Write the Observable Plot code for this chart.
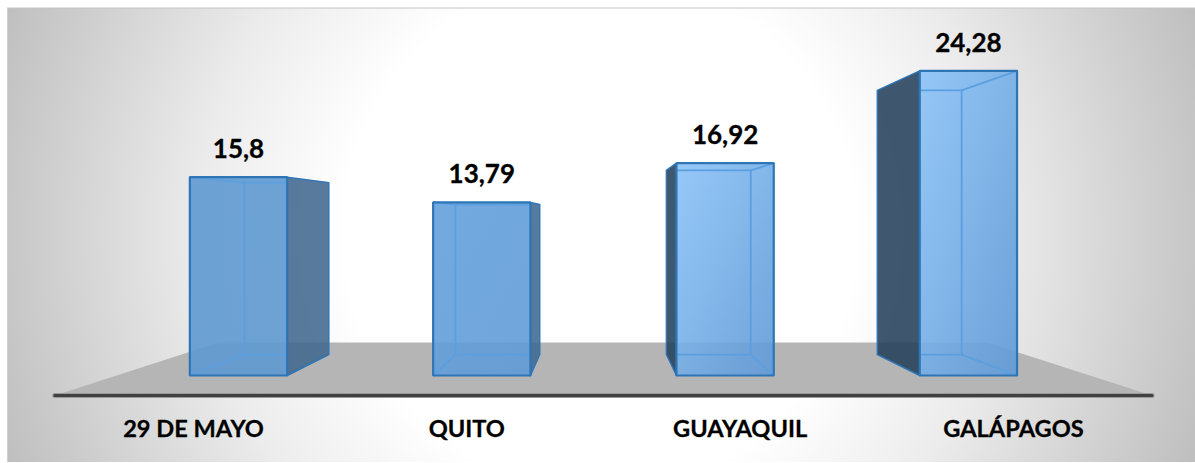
<!DOCTYPE html>
<html>
<head>
<meta charset="utf-8">
<script src="https://cdn.jsdelivr.net/npm/d3@7"></script>
<script src="https://cdn.jsdelivr.net/npm/@observablehq/plot@0.6"></script>
<style>
html,body{margin:0;padding:0;background:#fff;overflow:hidden}
svg{display:block;font-family:Lato,sans-serif}
</style>
</head>
<body>
<div id="chart"></div>
<script>
const categories = ["29 DE MAYO", "QUITO", "GUAYAQUIL", "GALÁPAGOS"];
const values = [15.8, 13.79, 16.92, 24.28];
const valueLabels = ["15,8", "13,79", "16,92", "24,28"];

// Oblique-perspective model, in data units (x = bar index, y = value)
const halfWidth = 0.2, depthScale = 0.867, vanishX = 1.488, backBase = 1.67;
const floorFrontY = -1.59, floorBackY = 2.63;
const floorFront = [-0.755, 3.755], floorBack = [-0.082, 3.078];
const tickStart = -0.185, tickStep = 1.1234;

const backX = x => vanishX + (x - vanishX) * depthScale;
const backY = v => backBase + v * depthScale;

const poly = (id, pts) => pts.map(([x, y]) => ({id, x, y}));
const W = 1195, H = 463;

function gradients() {
  const ns = "http://www.w3.org/2000/svg";
  const defs = document.createElementNS(ns, "defs");
  defs.innerHTML = `
  <radialGradient id="bg" gradientUnits="userSpaceOnUse" cx="600" cy="232" r="640">
    <stop offset="0.40" stop-color="#ffffff"/>
    <stop offset="0.62" stop-color="#ececec"/>
    <stop offset="1" stop-color="#bebebe"/>
  </radialGradient>
  <linearGradient id="fa" x1="0" y1="0" x2="1" y2="1">
    <stop offset="0" stop-color="#5f99d2"/><stop offset="1" stop-color="#5f99d2"/>
  </linearGradient>
  <linearGradient id="fb" x1="0" y1="0" x2="1" y2="1">
    <stop offset="0" stop-color="#63a0dc"/><stop offset="1" stop-color="#5f9bd6"/>
  </linearGradient>
  <linearGradient id="fc" x1="0" y1="0" x2="1" y2="1">
    <stop offset="0" stop-color="#8bc3f8"/><stop offset="1" stop-color="#5f99d6"/>
  </linearGradient>
  <linearGradient id="fd" x1="0" y1="0" x2="1" y2="1">
    <stop offset="0" stop-color="#8bc3f8"/><stop offset="1" stop-color="#5f99d6"/>
  </linearGradient>`;
  return defs;
}

const frontFills = ["url(#fa)", "url(#fb)", "url(#fc)", "url(#fd)"];
const sideFills = ["#3f668f", "#3f668f", "#243f5a", "#243f5a"];
const strongStroke = "#2e75b6", thinStroke = "#5b9fe0";

const barMarks = values.flatMap((v, i) => {
  const l = i - halfWidth, r = i + halfWidth;
  const bl = backX(l), br = backX(r), bt = backY(v), bb = backBase;
  const isLeft = i >= 2;
  const side = isLeft
    ? [[l, 0], [l, v], [bl, bt], [bl, bb]]
    : [[r, 0], [r, v], [br, bt], [br, bb]];
  // inner edges stay inside the front face; the part behind the side face is not drawn
  const inner = isLeft
    ? [[l, bb], [br, bb], [br, bt], [l, bt]]
    : [[r, bb], [bl, bb], [bl, bt], [r, bt]];
  const thin = {x: "x", y: "y", stroke: thinStroke, strokeWidth: 1.8};
  return [
    Plot.line(poly("side", side), {x: "x", y: "y", curve: "linear-closed", fill: sideFills[i], fillOpacity: 0.87, stroke: strongStroke, strokeWidth: 1.4, strokeLinejoin: "round"}),
    Plot.line(poly("front", [[l, 0], [l, v], [r, v], [r, 0]]), {x: "x", y: "y", curve: "linear-closed", fill: frontFills[i], fillOpacity: 0.9, stroke: "none"}),
    Plot.line(poly("back", inner), thin),
    Plot.line(poly("a", [[l, 0], [isLeft ? l : bl, isLeft ? 0 : bb]]), thin),
    Plot.line(poly("b", [[r, 0], [isLeft ? br : r, isLeft ? bb : 0]]), thin),
    Plot.line(poly("c", isLeft ? [[r, v], [br, bt]] : [[l, v], [bl, bt]]), thin),
    Plot.line(poly("front", [[l, 0], [l, v], [r, v], [r, 0]]), {x: "x", y: "y", curve: "linear-closed", stroke: strongStroke, strokeWidth: 2.2, strokeLinejoin: "miter"})
  ];
});

const floor = poly("floor", [[floorFront[0], floorFrontY], [floorBack[0], floorBackY], [floorBack[1], floorBackY], [floorFront[1], floorFrontY]]);
const axisLine = poly("axis", [[floorFront[0], floorFrontY], [floorFront[1], floorFrontY]]);

const xDomain = [(0 - 238) / 243.3, (W - 238) / 243.3];
const yDomain = [(375 - H) / 12.55, 375 / 12.55];

const chart = Plot.plot({
  width: W, height: H,
  marginTop: 0, marginRight: 0, marginBottom: 0, marginLeft: 0,
  style: {background: "transparent", overflow: "visible"},
  x: {type: "linear", domain: xDomain, range: [0, W], axis: null},
  y: {type: "linear", domain: yDomain, range: [H, 0], axis: null},
  marks: [
    gradients,
    Plot.rect([0], {x1: (7 - 238) / 243.3, x2: xDomain[1], y1: (375 - 462) / 12.55, y2: (375 - 8) / 12.55, fill: "url(#bg)"}),
    Plot.ruleY([(375 - 7.5) / 12.55], {stroke: "#c4c4c4", strokeWidth: 1, x1: (7 - 238) / 243.3, x2: xDomain[1]}),
    Plot.ruleX([(7 - 238) / 243.3], {stroke: "#cfcfcf", strokeWidth: 1, y1: (375 - 462) / 12.55, y2: (375 - 8) / 12.55}),
    Plot.line(floor, {x: "x", y: "y", curve: "linear-closed", fill: "#b5b5b5"}),
    ...barMarks,
    Plot.line(axisLine, {x: "x", y: "y", stroke: "#9a9a9a", strokeWidth: 5, strokeLinecap: "round"}),
    Plot.line(axisLine, {x: "x", y: "y", stroke: "#404040", strokeWidth: 3, strokeLinecap: "round"}),
    Plot.text(values, {x: (d, i) => i, y: d => d, dy: -27.5, text: (d, i) => valueLabels[i], fontSize: 26, fontWeight: 700, fill: "#000", stroke: "#000", strokeWidth: 0.3, textAnchor: "middle", lineAnchor: "middle"}),
    Plot.text(categories, {x: (d, i) => tickStart + tickStep * i, y: floorFrontY, dy: 34, text: d => d, fontSize: 23.6, fontWeight: 700, fill: "#000", stroke: "#000", strokeWidth: 0.3, textAnchor: "middle", lineAnchor: "middle"})
  ]
});
document.getElementById("chart").appendChild(chart);
</script>
</body>
</html>
